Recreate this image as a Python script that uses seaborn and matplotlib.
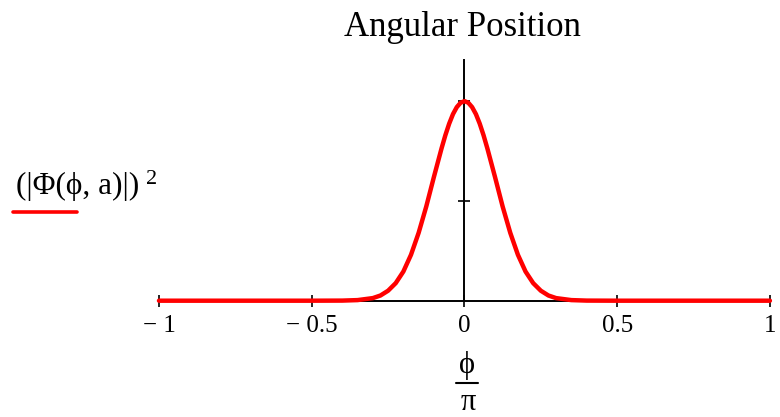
import matplotlib.pyplot as plt
import pandas as pd
import seaborn as sns
from matplotlib.lines import Line2D

# values (|Phi|^2 scaled so the peak is 1)
phi_over_pi = [-1.0, -0.5, -0.4, -0.35, -0.3, -0.275, -0.25, -0.225, -0.2, -0.175, -0.15,
               -0.125, -0.1, -0.075, -0.0625, -0.05, -0.0375, -0.025, -0.0125, 0.0,
               0.0125, 0.025, 0.0375, 0.05, 0.0625, 0.075, 0.1, 0.125,
               0.15, 0.175, 0.2, 0.225, 0.25, 0.275, 0.3, 0.35, 0.4, 0.5, 1.0]
density = [0.0, 0.0, 0.0005, 0.003, 0.013, 0.026, 0.05, 0.088, 0.146, 0.23, 0.34,
           0.472, 0.62, 0.763, 0.829, 0.887, 0.935, 0.97, 0.992, 1.0,
           0.992, 0.97, 0.935, 0.887, 0.829, 0.763, 0.62, 0.472,
           0.34, 0.23, 0.146, 0.088, 0.05, 0.026, 0.013, 0.003, 0.0005, 0.0, 0.0]
x_ticks = [-1, -0.5, 0, 0.5, 1]
x_tick_labels = ["\u2212 1", "\u2212 0.5", "0", "0.5", "1"]
y_ticks = [0.5, 1.0]

sns.set_style("white")
plt.rcParams["font.family"] = ["Liberation Serif", "DejaVu Serif"]
plt.rcParams["text.color"] = "black"
plt.rcParams["xtick.color"] = "black"
plt.rcParams["ytick.color"] = "black"

df = pd.DataFrame({"x": phi_over_pi, "y": density})

fig = plt.figure(figsize=(7.8, 4.17), dpi=100)
ax = fig.add_axes([0.2038, 0.2789, 0.7833, 0.5772])

sns.lineplot(data=df, x="x", y="y", color="#ff0000", linewidth=3.2, ax=ax, clip_on=False, zorder=5)

ax.set_xlim(-1, 1)
ax.set_ylim(0, 1.206)
for side in ("top", "right"):
    ax.spines[side].set_visible(False)
ax.spines["left"].set_position(("data", 0))
ax.spines["bottom"].set_position(("data", 0))
for side in ("left", "bottom"):
    ax.spines[side].set_linewidth(1.4)
    ax.spines[side].set_color("black")

ax.set_xticks(x_ticks)
ax.set_xticklabels(x_tick_labels)
ax.set_yticks(y_ticks)
ax.set_yticklabels([])
ax.tick_params(axis="both", direction="inout", length=8.6, width=1.2, color="black",
               left=True, bottom=True)
ax.tick_params(axis="x", labelsize=18, pad=6, labelcolor="black")
ax.set_xlabel("")
ax.set_ylabel("")

fig.text(0.593, 0.935, "Angular Position", ha="center", va="center", fontsize=25)

# y label with its legend stroke
fig.text(0.020, 0.553, "(|\u03a6(\u03d5, a)|)", ha="left", va="center", fontsize=22.5)
fig.text(146 / 780, 1 - 179 / 417, "2", ha="left", va="center", fontsize=16)
fig.add_artist(Line2D([13 / 780, 77 / 780], [1 - 212 / 417, 1 - 212 / 417], color="#ff0000", linewidth=2.6))

# x label as a fraction
fig.text(467 / 780, 1 - 366 / 417, "\u03d5", ha="center", va="center", fontsize=22)
fig.add_artist(Line2D([456 / 780, 478 / 780], [1 - 383 / 417, 1 - 383 / 417], color="black", linewidth=1.5))
fig.text(468 / 780, 1 - 403 / 417, "\u03c0", ha="center", va="center", fontsize=22)

fig.savefig("out.png", dpi=100)
